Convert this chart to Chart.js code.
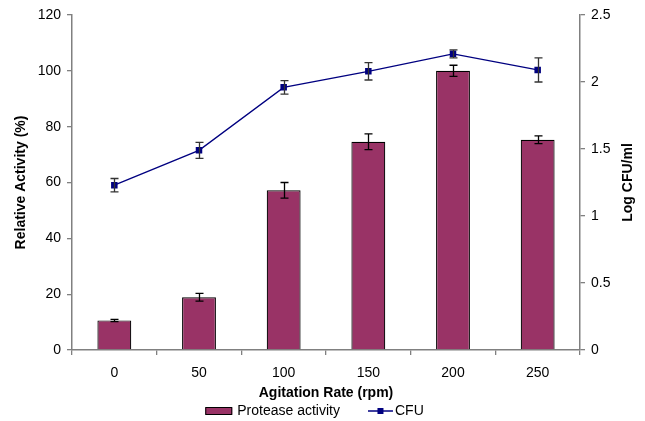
<!DOCTYPE html>
<html>
<head>
<meta charset="utf-8">
<script src="https://cdn.jsdelivr.net/npm/chart.js@4/dist/chart.umd.min.js"></script>
<style>
  html, body { margin: 0; padding: 0; background: #fff; }
  #wrap { width: 645px; height: 421px; position: relative; }
</style>
</head>
<body>
<div id="wrap"><canvas id="c" width="645" height="421"></canvas></div>
<script>
const categories = ['0', '50', '100', '150', '200', '250'];
const proteaseActivity = [10.6, 18.9, 57.2, 74.6, 100, 75.3];
const proteaseError = [0.4, 1.4, 2.8, 2.8, 2.0, 1.4];
const cfuValues = [1.23, 1.49, 1.96, 2.08, 2.21, 2.09];
const cfuError = [0.05, 0.06, 0.05, 0.065, 0.03, 0.09];
const leftTicks = [0, 20, 40, 60, 80, 100, 120];
const rightTicks = [0, 0.5, 1, 1.5, 2, 2.5];
const rightTitle = 'Log CFU/ml';

const FONT = "'Liberation Sans', Arial, sans-serif";
const BAR_COLOR = '#993366';
const LINE_COLOR = '#000080';
const AXIS_COLOR = '#808080';

const errorBarPlugin = {
  id: 'errorBars',
  afterDatasetsDraw(chart) {
    const ctx = chart.ctx;
    chart.data.datasets.forEach((ds, i) => {
      const meta = chart.getDatasetMeta(i);
      const yScale = chart.scales[meta.yAxisID];
      const errs = ds.errorValues;
      if (!errs) return;
      ctx.save();
      ctx.strokeStyle = ds.errorColor;
      ctx.lineWidth = 1.3;
      meta.data.forEach((el, j) => {
        const x = Math.round(el.x) + 0.5;
        const yt = yScale.getPixelForValue(ds.data[j] + errs[j]);
        const yb = yScale.getPixelForValue(ds.data[j] - errs[j]);
        const cap = 4;
        ctx.beginPath();
        ctx.moveTo(x, yt); ctx.lineTo(x, yb);
        ctx.moveTo(x - cap, yt); ctx.lineTo(x + cap, yt);
        ctx.moveTo(x - cap, yb); ctx.lineTo(x + cap, yb);
        ctx.stroke();
      });
      ctx.restore();
    });
  }
};

const legendPlugin = {
  id: 'customLegend',
  afterDraw(chart) {
    const ctx = chart.ctx;
    ctx.save();
    // right axis title, reading bottom-to-top
    const s2 = chart.scales.y2;
    ctx.save();
    ctx.font = 'bold 14px ' + FONT;
    ctx.fillStyle = '#000';
    ctx.textAlign = 'center';
    ctx.textBaseline = 'middle';
    ctx.translate(s2.right - 17, (chart.chartArea.top + chart.chartArea.bottom) / 2);
    ctx.rotate(-Math.PI / 2);
    ctx.fillText(rightTitle, 0, 0);
    ctx.restore();

    ctx.font = '14px ' + FONT;
    ctx.textBaseline = 'middle';
    ctx.fillStyle = '#000';
    const t1 = chart.data.datasets[1].label;
    const t2 = chart.data.datasets[0].label;
    const w1 = ctx.measureText(t1).width;
    const w2 = ctx.measureText(t2).width;
    const boxW = 27, gapText = 5, gapItems = 28, lineW = 25;
    const total = boxW + gapText + w1 + gapItems + lineW + 2 + w2;
    let x = chart.width / 2 - 8 - total / 2;
    const y = 411;
    ctx.fillStyle = BAR_COLOR;
    ctx.fillRect(x, y - 3.5, boxW, 7);
    ctx.strokeStyle = '#000';
    ctx.lineWidth = 1;
    ctx.strokeRect(x + 0.5, y - 3.5, boxW - 1, 7);
    x += boxW + gapText;
    ctx.fillStyle = '#000';
    ctx.fillText(t1, x, y);
    x += w1 + gapItems;
    ctx.strokeStyle = LINE_COLOR;
    ctx.lineWidth = 1.5;
    ctx.beginPath();
    ctx.moveTo(x, y); ctx.lineTo(x + lineW, y);
    ctx.stroke();
    ctx.fillStyle = LINE_COLOR;
    ctx.fillRect(x + lineW / 2 - 3, y - 3, 6, 6);
    x += lineW + 2;
    ctx.fillStyle = '#000';
    ctx.fillText(t2, x, y);
    ctx.restore();
  }
};

new Chart(document.getElementById('c'), {
  type: 'bar',
  data: {
    labels: categories,
    datasets: [
      {
        type: 'line',
        label: 'CFU',
        data: cfuValues,
        errorValues: cfuError,
        errorColor: '#333333',
        yAxisID: 'y2',
        borderColor: LINE_COLOR,
        backgroundColor: LINE_COLOR,
        borderWidth: 1.3,
        pointStyle: 'rect',
        pointRadius: 4.6,
        pointBorderWidth: 0,
        tension: 0,
        order: 0
      },
      {
        type: 'bar',
        label: 'Protease activity',
        data: proteaseActivity,
        errorValues: proteaseError,
        errorColor: '#000000',
        yAxisID: 'y',
        backgroundColor: BAR_COLOR,
        borderColor: '#000000',
        borderWidth: 1.2,
        categoryPercentage: 0.8,
        barPercentage: 0.5,
        order: 1
      }
    ]
  },
  options: {
    responsive: false,
    animation: false,
    devicePixelRatio: 1,
    layout: { padding: { top: 15, bottom: 21, left: 0, right: 0 } },
    plugins: {
      legend: { display: false },
      tooltip: { enabled: false }
    },
    scales: {
      x: {
        afterFit(s) { s.height = 50; },
        grid: { display: true, drawOnChartArea: false, offset: true, tickLength: 5, color: AXIS_COLOR, lineWidth: 1.3 },
        border: { color: AXIS_COLOR, width: 1.5 },
        ticks: { color: '#000', font: { family: FONT, size: 14 }, padding: 10, maxRotation: 0 },
        title: { display: true, text: 'Agitation Rate (rpm)', color: '#000', font: { family: FONT, size: 14, weight: 'bold', lineHeight: 1 }, padding: { top: 0, bottom: 0 } }
      },
      y: {
        position: 'left',
        min: 0, max: 120,
        afterFit(s) { s.width = 72; },
        afterBuildTicks(s) { s.ticks = leftTicks.map(v => ({ value: v })); },
        grid: { display: true, drawOnChartArea: false, tickLength: 5, color: AXIS_COLOR, lineWidth: 1.3 },
        border: { color: AXIS_COLOR, width: 1.5 },
        ticks: { color: '#000', font: { family: FONT, size: 14 }, padding: 6, callback: v => String(v) },
        title: { display: true, text: 'Relative Activity (%)', color: '#000', font: { family: FONT, size: 14, weight: 'bold', lineHeight: 1 }, padding: { top: 14, bottom: 0 } }
      },
      y2: {
        position: 'right',
        min: 0, max: 2.5,
        afterFit(s) { s.width = 65; },
        afterBuildTicks(s) { s.ticks = rightTicks.map(v => ({ value: v })); },
        grid: { display: true, drawOnChartArea: false, tickLength: 5, color: AXIS_COLOR, lineWidth: 1.3 },
        border: { color: AXIS_COLOR, width: 1.5 },
        ticks: { color: '#000', font: { family: FONT, size: 14 }, padding: 6, callback: v => String(v) },
        title: { display: false }
      }
    }
  },
  plugins: [errorBarPlugin, legendPlugin]
});
</script>
</body>
</html>
